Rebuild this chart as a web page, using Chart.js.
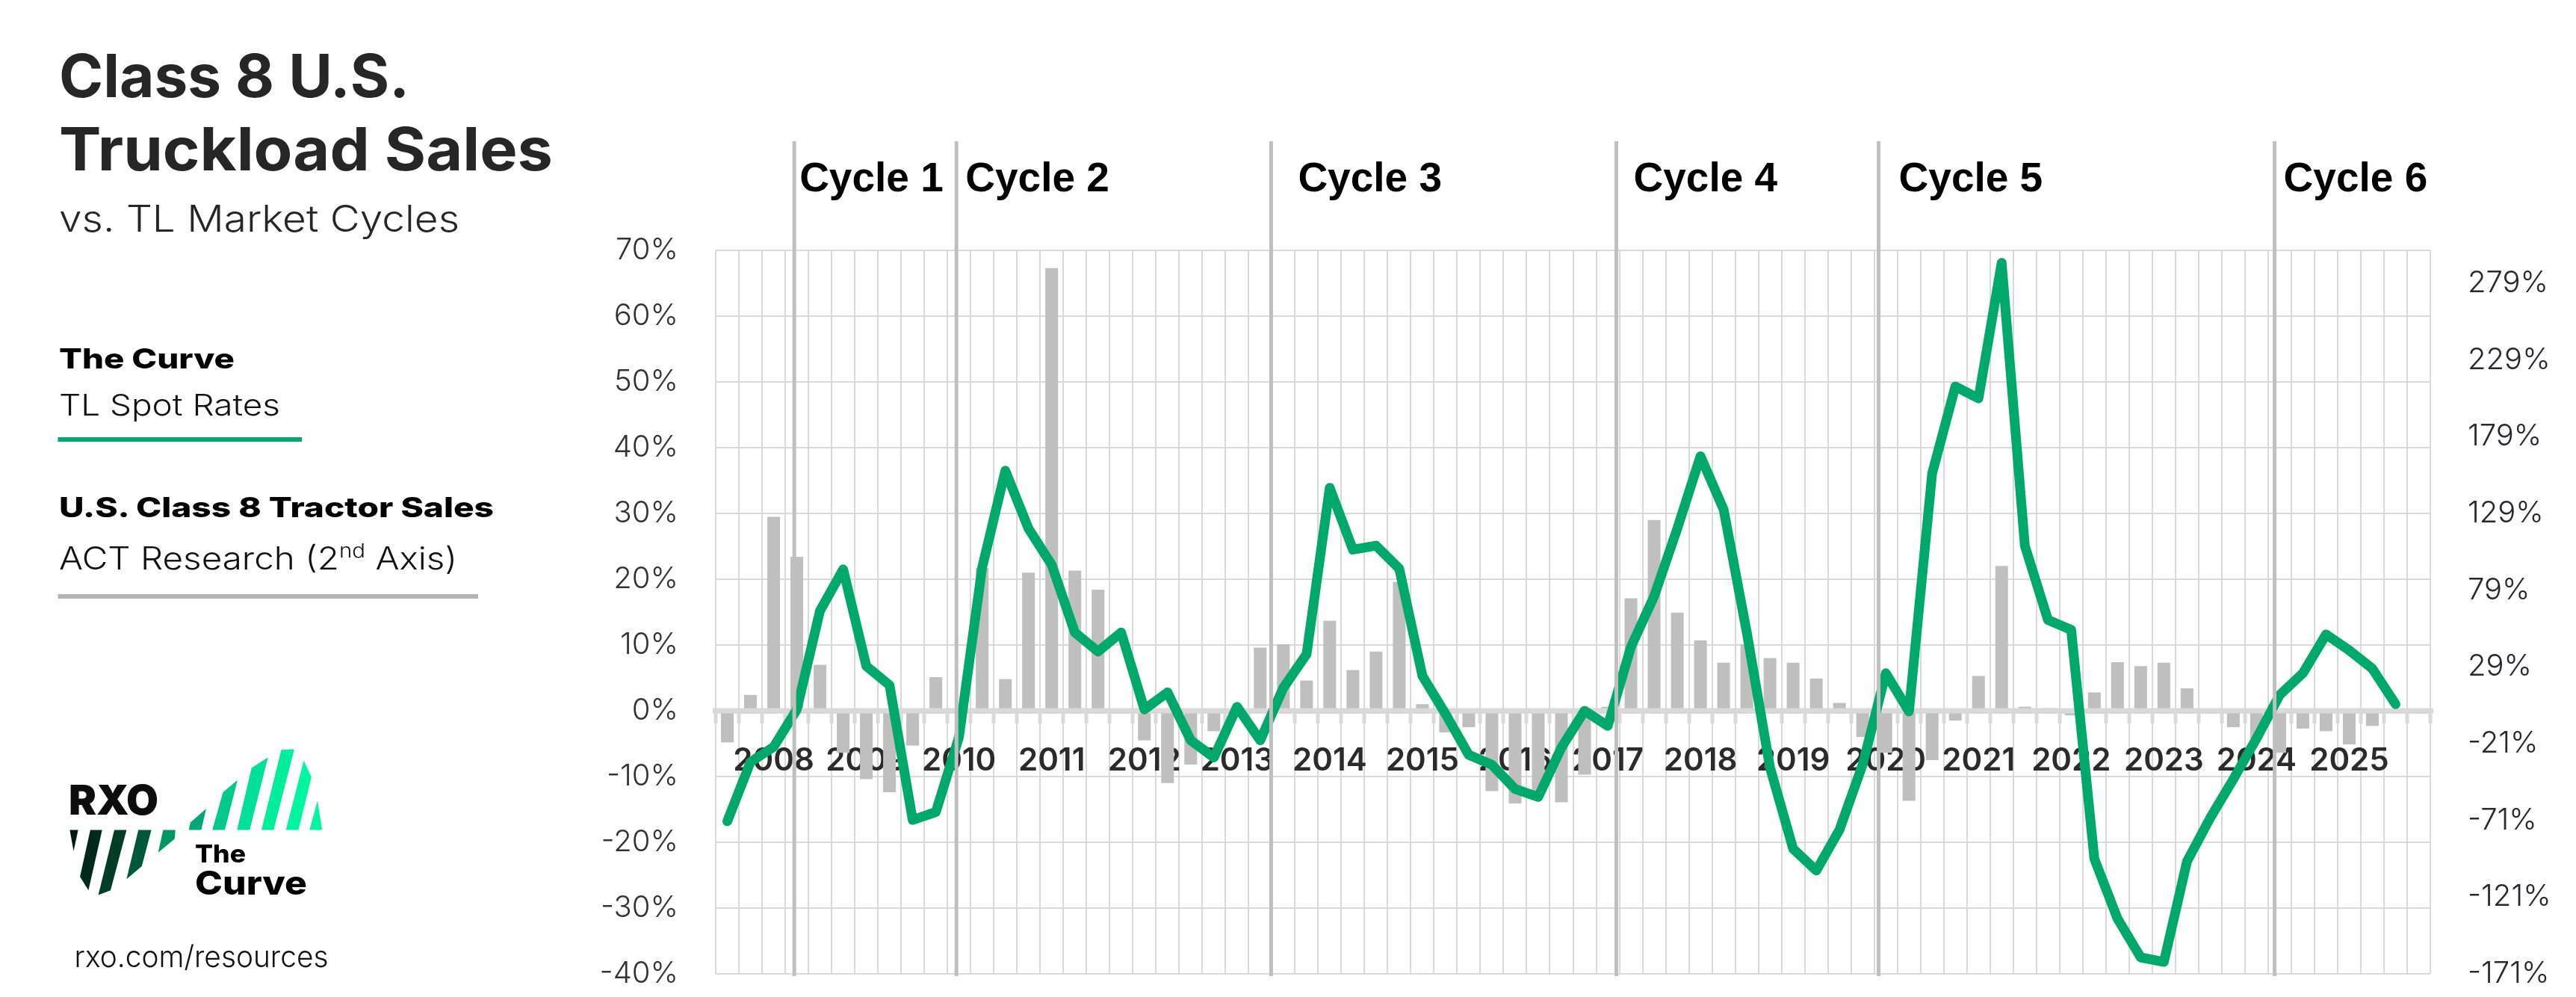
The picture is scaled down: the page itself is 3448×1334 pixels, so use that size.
<!DOCTYPE html>
<html>
<head>
<meta charset="utf-8">
<script src="https://cdn.jsdelivr.net/npm/chart.js@4"></script>
<style>
  html, body { margin: 0; padding: 0; background: #fff; }
  #wrap { position: absolute; left: 0; top: 0; width: 3448px; height: 1334px; }
  #side { position: absolute; left: 0; top: 0; pointer-events: none; }
</style>
</head>
<body>
<div id="wrap"><canvas id="chart"></canvas></div>

<svg id="side" width="760" height="1334" viewBox="0 0 760 1334">
  <g font-family="Inter, 'Open Sans', sans-serif">
    <text x="79" y="129.5" font-size="80" font-weight="700" fill="#262626" textLength="469" lengthAdjust="spacingAndGlyphs">Class 8 U.S.</text>
    <text x="79" y="228" font-size="80" font-weight="700" fill="#262626" textLength="661" lengthAdjust="spacingAndGlyphs">Truckload Sales</text>
    <text x="79" y="310" font-size="49" font-weight="300" fill="#262626" textLength="536" lengthAdjust="spacingAndGlyphs">vs. TL Market Cycles</text>

    <text x="79" y="493" font-size="37" font-weight="800" fill="#000" textLength="235" lengthAdjust="spacingAndGlyphs">The Curve</text>
    <text x="79" y="556" font-size="40" font-weight="300" fill="#111" textLength="296" lengthAdjust="spacingAndGlyphs">TL Spot Rates</text>
    <rect x="77.5" y="585" width="326.5" height="6" fill="#00a86b"/>

    <text x="79" y="692" font-size="37" font-weight="800" fill="#000" textLength="582" lengthAdjust="spacingAndGlyphs">U.S. Class 8 Tractor Sales</text>
    <text x="79" y="761.5" font-size="42" font-weight="300" fill="#111" textLength="533" lengthAdjust="spacingAndGlyphs">ACT Research (2<tspan font-size="26" dy="-16">nd</tspan><tspan dy="16"> Axis)</tspan></text>
    <rect x="77.5" y="795" width="562.5" height="6" fill="#b3b3b3"/>

    <!-- RXO logo -->
    <text x="92" y="1090" font-size="55" font-weight="900" fill="#0d0d0d" textLength="120" lengthAdjust="spacingAndGlyphs">RXO</text>
    <polygon points="93.4,1110.4 104.6,1110.4 98.5,1138.8" fill="#021a12"/>
    <polygon points="120.9,1110.4 136.7,1110.4 118.4,1191.3 107.1,1173.1" fill="#012a1c"/>
    <polygon points="153,1110.4 169.4,1110.4 148,1191.3 131.6,1197.4" fill="#023d27"/>
    <polygon points="185.2,1110.4 202.6,1110.4 189.8,1159 169.4,1176.3" fill="#00583a"/>
    <polygon points="218.4,1110.4 234.7,1110.4 233.7,1122.6 211.7,1140.8" fill="#009663"/>

    <!-- The Curve logo -->
    <polygon points="252.6,1110.4 269.4,1110.4 276,1082 255.1,1100.3" fill="#00a878"/>
    <polygon points="284.2,1110.4 301,1110.4 317.9,1043.7 298.5,1059.9" fill="#00c98a"/>
    <polygon points="317.3,1110.4 334.2,1110.4 358.7,1013.4 336.7,1027.5" fill="#00e096"/>
    <polygon points="350,1110.4 366.3,1110.4 393.9,1002.5 376.5,1003.3" fill="#00ee9c"/>
    <polygon points="382.7,1110.4 399.5,1110.4 416.8,1039.7 406.6,1017.4" fill="#00f5a0"/>
    <polygon points="414.3,1110.4 431.1,1110.4 425,1071.2" fill="#00f5a0"/>
    <text x="261" y="1154" font-size="33" font-weight="800" fill="#000" textLength="68" lengthAdjust="spacingAndGlyphs">The</text>
    <text x="261" y="1197" font-size="44" font-weight="800" fill="#000" textLength="150" lengthAdjust="spacingAndGlyphs">Curve</text>

    <text x="99.5" y="1293.6" font-size="40" font-weight="300" fill="#111" textLength="340" lengthAdjust="spacingAndGlyphs">rxo.com/resources</text>
  </g>
</svg>

<script>
// quarterly categories, 2007 Q3 .. 2025 Q4
const quarters = [
  '2007Q3','2007Q4',
  '2008Q1','2008Q2','2008Q3','2008Q4',
  '2009Q1','2009Q2','2009Q3','2009Q4',
  '2010Q1','2010Q2','2010Q3','2010Q4',
  '2011Q1','2011Q2','2011Q3','2011Q4',
  '2012Q1','2012Q2','2012Q3','2012Q4',
  '2013Q1','2013Q2','2013Q3','2013Q4',
  '2014Q1','2014Q2','2014Q3','2014Q4',
  '2015Q1','2015Q2','2015Q3','2015Q4',
  '2016Q1','2016Q2','2016Q3','2016Q4',
  '2017Q1','2017Q2','2017Q3','2017Q4',
  '2018Q1','2018Q2','2018Q3','2018Q4',
  '2019Q1','2019Q2','2019Q3','2019Q4',
  '2020Q1','2020Q2','2020Q3','2020Q4',
  '2021Q1','2021Q2','2021Q3','2021Q4',
  '2022Q1','2022Q2','2022Q3','2022Q4',
  '2023Q1','2023Q2','2023Q3','2023Q4',
  '2024Q1','2024Q2','2024Q3','2024Q4',
  '2025Q1','2025Q2','2025Q3','2025Q4'
];

// The Curve - TL spot rates, YoY % (left axis)
const spotRates = [
  -16.8, -7.8, -5.5, 0.2, 15.2, 21.5, 6.8, 3.9, -16.6, -15.4,
  -4.0, 21.8, 36.5, 27.7, 22.2, 11.9, 9.0, 11.9, 0.2, 2.8,
  -4.5, -7.1, 0.6, -4.5, 3.5, 8.6, 33.9, 24.5, 25.1, 21.6,
  5.3, -0.5, -6.7, -8.2, -11.9, -13.1, -5.6, 0.0, -2.3, 9.7,
  17.4, 27.7, 38.7, 30.6, 11.9, -8.6, -21.0, -24.3, -18.1, -8.2,
  5.7, -0.1, 36.1, 49.3, 47.5, 68.1, 25.1, 13.8, 12.3, -22.5,
  -31.6, -37.5, -38.2, -22.9, -16.3, -10.4, -4.2, 2.4, 5.7, 11.6,
  9.2, 6.4, 1.0, null
];

// U.S. Class 8 tractor sales, YoY % (2nd axis)
const tractorSales = [
  -20.6, 10.3, 126.4, 100.3, 30.0, -27.4, -44.6, -53.1, -22.7, 21.9,
  0, 93.0, 20.6, 90.0, 288.4, 91.3, 78.9, 0, -19.3, -47.1,
  -35.1, -13.3, 0, 41.1, 43.3, 19.7, 58.7, 26.6, 38.6, 84.0,
  4.3, -14.1, -10.7, -52.3, -60.4, -53.6, -59.6, -41.6, 2.6, 73.3,
  124.3, 63.9, 45.9, 31.3, 43.3, 34.3, 31.3, 21.0, 5.1, -17.1,
  -27.4, -58.7, -32.1, -6.4, 22.7, 94.3, 2.6, 1.7, -3.0, 12.0,
  31.7, 29.1, 31.3, 14.6, 0, -10.7, -18.0, -27.4, -11.6, -13.3,
  -21.9, -9.9, null, null
];

// right axis tick values (step 50 from the axis minimum)
const rightTicks = [-171.43, -121.43, -71.43, -21.43, 28.57, 78.57, 128.57, 178.57, 228.57, 278.57];

// market cycle starts, as position on the quarter axis
const cycleNames = ['Cycle 1', 'Cycle 2', 'Cycle 3', 'Cycle 4', 'Cycle 5', 'Cycle 6'];
const cycleStarts = [2.89, 9.89, 23.47, 38.37, 49.69, 66.78];
const cycleLabelGap = [7, 12, 36, 23, 27, 12];

const GRID = '#d9d9d9';

const cyclePlugin = {
  id: 'cycles',
  afterDatasetDraw(chart, args) {
    // keep the zero line on top of the bars, under the curve
    if (args.meta.type !== 'bar') return;
    const { ctx, chartArea } = chart;
    const y0 = chart.scales.y.getPixelForValue(0);
    ctx.save();
    ctx.fillStyle = GRID;
    ctx.fillRect(chartArea.left - 4, y0 - 3.5, chartArea.right - chartArea.left + 8, 7);
    ctx.restore();
  },
  afterDraw(chart) {
    const { ctx, scales: { x } } = chart;
    ctx.save();
    cycleStarts.forEach((pos, i) => {
      const px = x.getPixelForValue(pos);
      ctx.fillStyle = '#bfbfbf';
      ctx.fillRect(px - 2.5, 189, 5, 1306 - 189);
      ctx.fillStyle = '#000';
      ctx.font = 'bold 55px "Liberation Sans", Arial, sans-serif';
      ctx.textBaseline = 'alphabetic';
      ctx.textAlign = 'left';
      ctx.fillText(cycleNames[i], px + cycleLabelGap[i], 256);
    });
    ctx.restore();
  }
};

// y axes: fixed width, no extra label padding pushing the plot area
const fitY = w => s => { s.width = w; s.paddingTop = 0; s.paddingBottom = 0; };

new Chart(document.getElementById('chart').getContext('2d'), {
  type: 'bar',
  data: {
    labels: quarters,
    datasets: [
      {
        type: 'line',
        label: 'TL Spot Rates',
        data: spotRates,
        yAxisID: 'y',
        borderColor: '#00a86b',
        borderWidth: 13,
        borderJoinStyle: 'round',
        borderCapStyle: 'round',
        pointRadius: 0,
        tension: 0,
        order: 0
      },
      {
        type: 'bar',
        label: 'U.S. Class 8 Tractor Sales',
        data: tractorSales,
        yAxisID: 'y2',
        backgroundColor: '#bfbfbf',
        barPercentage: 0.55,
        categoryPercentage: 1.0,
        order: 1
      }
    ]
  },
  options: {
    responsive: true,
    maintainAspectRatio: false,
    animation: false,
    devicePixelRatio: 1,
    layout: { padding: { left: 700, right: 0, top: 335, bottom: 31 } },
    plugins: { legend: { display: false }, tooltip: { enabled: false } },
    scales: {
      x: {
        position: { y: 0 },
        offset: true,
        grid: {
          color: GRID, lineWidth: 2, offset: true,
          drawTicks: true, tickLength: 13, tickWidth: 5, tickColor: GRID
        },
        border: { display: true, color: GRID, width: 7 },
        ticks: {
          autoSkip: false, maxRotation: 0, minRotation: 0, padding: 29,
          color: '#2b2b2b',
          font: { family: 'Inter', size: 42, weight: 600 },
          callback: function (v) {
            const q = this.getLabelForValue(v);
            return q.endsWith('Q1') ? q.slice(0, 4) : '';
          }
        }
      },
      y: {
        position: 'left',
        min: -40, max: 70,
        grid: { color: GRID, lineWidth: 2, drawTicks: false },
        border: { display: false },
        ticks: {
          stepSize: 10, padding: 50, color: '#333',
          font: { family: 'Inter', size: 40, weight: 300 },
          callback: v => Math.round(v) + '%'
        },
        afterFit: fitY(258)
      },
      y2: {
        position: 'right',
        min: -171.43, max: 300,
        grid: { display: false, drawTicks: false },
        border: { display: false },
        afterBuildTicks: s => { s.ticks = rightTicks.map(v => ({ value: v })); },
        ticks: {
          padding: 50, color: '#2a2730',
          font: { family: 'Inter', size: 40, weight: 300 },
          callback: v => Math.round(v) + '%'
        },
        afterFit: fitY(195)
      }
    }
  },
  plugins: [cyclePlugin]
});
</script>
</body>
</html>
